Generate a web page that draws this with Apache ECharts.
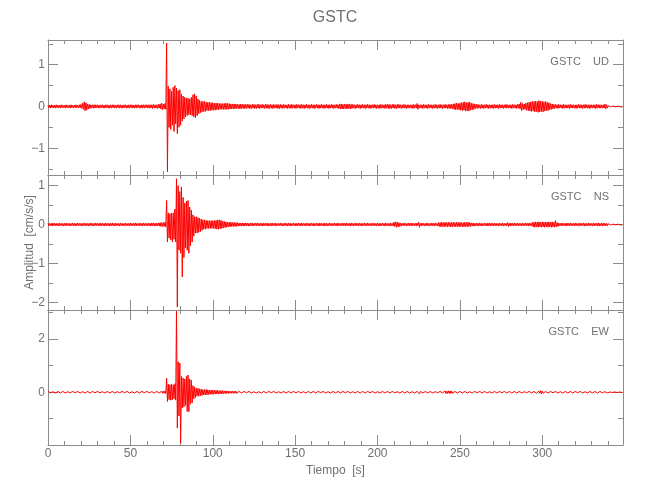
<!DOCTYPE html>
<html>
<head>
<meta charset="utf-8">
<script src="https://cdn.jsdelivr.net/npm/echarts@6/dist/echarts.min.js"></script>
<style>html,body{margin:0;padding:0;background:#fff}#c{width:650px;height:500px}</style>
</head>
<body>
<div id="c"></div>
<script>
// Time axis: one bin per second starting at 0 s; values in hundredths of cm/s/s (peak high / peak low in each bin)
const UD_HI = [
3,3,4,3,3,4,3,3,4,3, 3,4,3,3,4,3,3,4,3,4, 5,8,11,9,6,5,4,4,4,4, 4,3,4,4,3,4,4,3,4,4,
4,3,4,4,4,3,4,4,3,4, 4,4,3,4,4,4,3,4,4,4, 4,4,4,4,5,4,4,5,6,8, 6,7,152,48,42,36,46,50,44,38,
40,30,25,22,20,20,18,22,28,30, 25,18,15,12,12,13,10,10,10,9, 9,8,8,8,7,7,7,7,8,7, 7,6,6,6,6,5,5,6,5,5,
5,5,5,4,5,5,4,5,5,4, 5,4,5,5,4,5,4,5,4,5, 4,5,4,5,4,4,5,4,5,4, 4,5,4,4,5,4,4,5,4,4,
5,4,4,5,4,4,5,4,4,5, 4,4,5,4,4,5,4,6,6,5, 6,5,6,6,5,5,4,4,5,4, 4,5,4,4,5,4,4,4,5,4,
4,4,5,4,4,5,5,5,4,5, 5,4,5,5,4,4,5,4,4,4, 4,4,5,4,7,4,4,4,5,4, 4,5,4,4,4,5,4,4,5,4,
4,5,4,5,5,5,6,7,8,7, 8,9,10,11,9,10,10,8,7,6, 5,5,4,5,4,4,5,4,4,4, 4,5,4,4,5,4,4,4,5,4,
4,4,5,4,4,5,6,10,7,6, 8,9,10,11,12,12,13,12,14,13, 12,11,12,10,9,7,6,5,5,4, 5,4,4,5,4,4,4,5,4,4,
4,4,5,4,4,4,5,4,4,4, 4,4,4,5,4,4,4,4,6,4, 2,1,1,1,1,1,1,1,1];
const UD_LO = [
-3,-4,-3,-3,-4,-3,-3,-4,-3,-3, -4,-3,-3,-4,-3,-4,-3,-3,-4,-3, -5,-7,-10,-9,-6,-5,-4,-4,-4,-3, -4,-4,-3,-4,-4,-3,-4,-4,-4,-3,
-4,-4,-3,-4,-4,-4,-3,-4,-4,-4, -3,-4,-4,-4,-3,-4,-4,-4,-4,-3, -4,-4,-4,-5,-4,-4,-5,-4,-6,-8, -6,-7,-156,-50,-55,-45,-60,-42,-65,-50,
-45,-35,-30,-25,-22,-20,-20,-22,-25,-27, -22,-18,-15,-13,-12,-12,-10,-10,-10,-9, -9,-9,-8,-8,-7,-7,-7,-7,-7,-7, -6,-6,-6,-6,-5,-5,-6,-5,-5,-5,
-5,-4,-5,-5,-4,-5,-5,-4,-5,-4, -4,-5,-4,-5,-5,-4,-5,-4,-4,-5, -5,-4,-5,-4,-4,-5,-4,-5,-4,-4, -5,-4,-4,-5,-4,-5,-4,-4,-5,-4,
-4,-5,-4,-4,-5,-4,-4,-5,-4,-4, -5,-4,-4,-5,-4,-4,-5,-6,-6,-6, -5,-6,-5,-6,-5,-4,-5,-4,-4,-5, -4,-4,-5,-4,-4,-5,-4,-4,-4,-5,
-4,-5,-4,-4,-5,-4,-5,-5,-5,-4, -5,-5,-4,-4,-5,-4,-4,-5,-4,-4, -4,-5,-4,-4,-7,-4,-4,-5,-4,-4, -5,-4,-4,-5,-4,-4,-5,-4,-4,-5,
-4,-4,-5,-5,-5,-6,-7,-8,-7,-8, -9,-10,-9,-11,-10,-11,-9,-8,-7,-5, -5,-4,-5,-4,-5,-4,-4,-5,-4,-4, -5,-4,-4,-5,-4,-4,-5,-4,-4,-4,
-4,-5,-4,-4,-5,-4,-6,-10,-7,-7, -9,-10,-11,-12,-11,-13,-12,-14,-13,-12, -13,-11,-10,-10,-8,-7,-6,-5,-4,-5, -4,-4,-5,-4,-4,-4,-5,-4,-4,-4,
-5,-4,-4,-4,-5,-4,-4,-4,-5,-4, -4,-4,-5,-4,-4,-4,-4,-4,-6,-4, -2,-1,-1,-1,-1,-1,-1,-1,-1];
const NS_HI = [
3,3,3,4,3,3,3,4,3,3, 3,4,3,3,3,4,3,3,4,3, 3,3,4,3,3,3,4,3,3,4, 3,3,4,3,3,4,3,3,3,4,
3,4,3,3,4,3,3,4,3,3, 4,3,3,4,3,3,4,3,4,3, 3,4,3,4,4,3,4,4,5,5, 5,6,62,30,28,29,30,40,118,100,
85,97,70,55,60,62,45,37,25,20, 20,18,16,14,12,12,11,10,10,10, 10,10,11,12,12,11,9,8,7,6, 6,6,5,5,5,5,4,4,4,4,
4,4,3,4,4,3,4,4,3,4, 3,4,3,4,3,3,4,3,4,3, 3,4,3,3,4,3,4,3,3,4, 3,3,4,3,4,3,3,4,3,3,
4,3,3,4,3,4,3,3,4,3, 3,4,3,3,4,3,4,3,3,4, 3,4,3,3,4,3,3,4,3,4, 3,3,4,3,4,3,3,4,3,3,
4,3,3,4,3,4,3,3,4,3, 6,7,6,5,4,3,4,3,3,4, 3,4,3,3,4,6,3,4,3,3, 4,3,3,4,3,4,3,5,5,6,
5,6,5,6,5,5,6,5,6,5, 6,5,5,6,5,6,5,4,4,3, 4,3,4,3,3,4,3,4,3,4, 3,4,3,3,4,3,4,3,3,5,
3,4,3,4,3,4,3,3,4,3, 4,3,4,3,6,6,7,6,7,6, 7,6,7,6,7,6,7,6,10,5, 4,3,4,3,3,4,3,4,3,3,
4,3,3,4,3,4,3,3,4,3, 3,4,3,4,4,3,3,4,3,3, 2,1,1,1,1,1,1,1,1];
const NS_LO = [
-3,-3,-4,-3,-3,-3,-4,-3,-3,-4, -3,-3,-3,-4,-3,-3,-4,-3,-3,-3, -4,-3,-3,-3,-4,-3,-3,-4,-3,-3, -3,-4,-3,-3,-4,-3,-3,-4,-3,-3,
-4,-3,-3,-4,-3,-3,-4,-3,-3,-4, -3,-3,-4,-3,-3,-4,-3,-4,-3,-3, -4,-3,-4,-3,-4,-4,-3,-4,-5,-5, -5,-6,-45,-35,-40,-45,-38,-45,-212,-66,
-74,-135,-85,-60,-66,-74,-55,-45,-30,-22, -22,-20,-18,-15,-12,-12,-10,-10,-10,-10, -10,-11,-12,-12,-11,-10,-9,-8,-7,-6, -6,-5,-5,-5,-5,-4,-4,-4,-4,-4,
-3,-4,-4,-3,-4,-3,-4,-3,-4,-3, -4,-3,-3,-4,-3,-4,-3,-3,-4,-3, -3,-3,-4,-3,-3,-4,-3,-4,-3,-3, -4,-3,-3,-4,-3,-3,-4,-3,-4,-3,
-3,-4,-3,-3,-4,-3,-3,-4,-3,-4, -3,-3,-4,-3,-3,-4,-3,-4,-3,-3, -4,-3,-3,-4,-3,-4,-3,-3,-4,-3, -4,-3,-3,-4,-3,-3,-4,-3,-3,-4,
-3,-4,-3,-3,-4,-3,-3,-4,-3,-4, -5,-7,-6,-5,-4,-3,-3,-4,-3,-3, -4,-3,-3,-4,-3,-7,-3,-3,-4,-3, -3,-4,-3,-3,-4,-3,-4,-5,-6,-5,
-6,-5,-6,-5,-6,-6,-5,-6,-5,-6, -5,-6,-6,-5,-6,-5,-5,-4,-4,-4, -3,-4,-3,-4,-3,-3,-4,-3,-4,-3, -4,-3,-3,-4,-3,-3,-4,-3,-3,-5,
-4,-3,-4,-3,-3,-4,-3,-4,-3,-3, -3,-4,-3,-4,-6,-7,-6,-7,-6,-7, -6,-7,-6,-7,-6,-7,-6,-7,-6,-5, -3,-4,-3,-3,-4,-3,-4,-3,-3,-4,
-3,-3,-4,-3,-3,-4,-3,-4,-3,-3, -4,-3,-3,-4,-4,-3,-4,-3,-3,-4, -2,-1,-1,-1,-1,-1,-1,-1,-1];
const EW_HI = [
3,3,3,2,3,3,3,3,2,3, 3,3,2,3,3,3,3,2,3,3, 3,2,3,3,3,3,2,3,3,3, 3,3,3,2,3,3,3,3,2,3,
3,3,2,3,3,3,3,2,3,3, 3,2,3,3,3,3,2,3,3,3, 3,3,3,2,3,3,3,3,4,4, 4,5,53,30,28,30,28,32,305,115,
110,60,54,50,60,65,50,45,25,20, 15,15,13,12,10,10,10,9,8,8, 8,7,7,7,6,6,6,5,5,5, 4,4,4,4,4,3,3,3,3,3,
3,2,3,3,3,2,3,3,2,3, 3,3,2,3,3,3,2,3,3,3, 2,3,3,3,2,3,3,2,3,3, 3,2,3,3,3,2,3,3,3,2,
3,3,2,3,3,3,2,3,3,3, 2,3,3,3,2,3,3,3,2,3, 3,2,3,3,3,2,3,3,3,2, 3,3,3,2,3,3,2,3,3,3,
2,3,3,3,2,3,3,3,2,3, 3,3,2,3,3,3,2,3,3,3, 3,2,3,3,3,6,3,2,3,3, 3,2,3,3,3,2,3,3,3,2,
4,5,4,5,5,4,3,3,2,3, 3,3,2,3,3,3,2,3,3,3, 2,3,3,3,2,3,3,3,2,3, 3,3,2,3,3,3,2,3,3,3,
3,2,3,3,3,2,3,3,3,2, 3,3,3,2,3,3,4,3,4,6, 4,3,3,2,3,3,3,2,3,3, 3,2,3,3,3,2,3,3,3,2,
3,3,2,3,3,3,2,3,3,3, 2,3,3,3,2,3,3,3,2,3, 2,1,1,1,1,1,1,1,1];
const EW_LO = [
-3,-2,-3,-3,-3,-2,-3,-3,-3,-2, -3,-3,-3,-2,-3,-3,-2,-3,-3,-3, -2,-3,-3,-3,-2,-3,-3,-3,-2,-3, -3,-2,-3,-3,-3,-2,-3,-3,-3,-2,
-3,-3,-3,-2,-3,-3,-2,-3,-3,-3, -2,-3,-3,-3,-2,-3,-3,-3,-2,-3, -3,-2,-3,-3,-3,-2,-3,-3,-4,-4, -4,-5,-35,-28,-30,-29,-25,-30,-135,-90,
-192,-60,-55,-50,-73,-73,-45,-40,-25,-20, -15,-15,-13,-12,-10,-10,-10,-9,-8,-8, -8,-7,-7,-7,-6,-6,-6,-5,-5,-5, -4,-4,-4,-4,-4,-3,-3,-3,-3,-3,
-2,-3,-3,-3,-2,-3,-3,-2,-3,-3, -3,-2,-3,-3,-3,-2,-3,-3,-3,-2, -3,-3,-2,-3,-3,-3,-2,-3,-3,-3, -2,-3,-3,-3,-2,-3,-3,-2,-3,-3,
-3,-2,-3,-3,-3,-2,-3,-3,-3,-2, -3,-3,-2,-3,-3,-3,-2,-3,-3,-3, -2,-3,-3,-3,-2,-3,-3,-2,-3,-3, -3,-2,-3,-3,-3,-2,-3,-3,-3,-2,
-3,-3,-2,-3,-3,-3,-2,-3,-3,-3, -2,-3,-3,-3,-2,-3,-3,-2,-3,-3, -3,-2,-3,-3,-3,-6,-3,-3,-2,-3, -3,-3,-2,-3,-3,-3,-2,-3,-3,-3,
-4,-5,-5,-4,-5,-4,-3,-3,-3,-2, -3,-3,-3,-2,-3,-3,-2,-3,-3,-3, -2,-3,-3,-3,-2,-3,-3,-3,-2,-3, -3,-2,-3,-3,-3,-2,-3,-3,-3,-2,
-3,-3,-2,-3,-3,-3,-2,-3,-3,-3, -2,-3,-3,-3,-2,-3,-4,-3,-4,-6, -4,-3,-2,-3,-3,-3,-2,-3,-3,-3, -2,-3,-3,-3,-2,-3,-3,-2,-3,-3,
-3,-2,-3,-3,-3,-2,-3,-3,-3,-2, -3,-3,-2,-3,-3,-3,-2,-3,-3,-3, -2,-1,-1,-1,-1,-1,-1,-1,-1];

const STATION = 'GSTC';
const COMPONENTS = ['UD', 'NS', 'EW'];
const X_MAJOR = [0, 50, 100, 150, 200, 250, 300];
const X_MINOR = [10,20,30,40, 60,70,80,90, 110,120,130,140, 160,170,180,190, 210,220,230,240, 260,270,280,290, 310,320,330,340];
const Y_MAJOR = [[-1, 0, 1], [-2, -1, 0, 1], [0, 2]];
const Y_MINOR = [[-1.5, -0.5, 0.5, 1.5], [-1.5, -0.5, 0.5], [-1, 1, 3]];
const Y_RANGE = [[-1.64, 1.59], [-2.2, 1.275], [-1.99, 3.1]];
const X_RANGE = [0, 349];

function trace(hi, lo) {
  const d = [];
  for (let i = 0; i < hi.length; i++) {
    d.push([i, hi[i] / 100]);
    d.push([i + 0.5, lo[i] / 100]);
  }
  return d;
}
const TRACES = [trace(UD_HI, UD_LO), trace(NS_HI, NS_LO), trace(EW_HI, EW_LO)];

const AX = '#8c8c8c', TX = '#707070';
const FONT = "'Liberation Sans', Arial, sans-serif";
const tops = [40, 175, 310];
const fmt = v => (v < 0 ? '\u2212' + (-v) : String(v));

const grid = [], xAxis = [], yAxis = [], series = [];
for (let g = 0; g < 3; g++) {
  grid.push({ left: 48, right: 27, top: tops[g], height: 135, containLabel: false });
  const xBase = xAxis.length, yBase = yAxis.length;
  for (const pos of ['bottom', 'top']) {
    const showLab = (g === 2 && pos === 'bottom');
    xAxis.push({
      gridIndex: g, type: 'value', position: pos, min: X_RANGE[0], max: X_RANGE[1],
      axisLine: { show: true, onZero: false, lineStyle: { color: AX, width: 1 } },
      axisTick: { show: true, inside: true, length: 10, customValues: X_MAJOR, lineStyle: { color: AX } },
      splitLine: { show: false },
      axisLabel: { show: showLab, color: TX, fontSize: 12, fontFamily: FONT, margin: 3, customValues: X_MAJOR },
      name: showLab ? 'Tiempo  [s]' : '', nameLocation: 'middle', nameGap: 20, nameMoveOverlap: false,
      nameTextStyle: { color: TX, fontSize: 12, fontFamily: FONT }
    });
    xAxis.push({
      gridIndex: g, type: 'value', position: pos, min: X_RANGE[0], max: X_RANGE[1],
      axisLine: { show: false, onZero: false },
      axisTick: { show: true, inside: true, length: 4, customValues: X_MINOR, lineStyle: { color: AX } },
      splitLine: { show: false },
      axisLabel: { show: false, customValues: X_MINOR }
    });
  }
  for (const pos of ['left', 'right']) {
    const isMain = pos === 'left';
    yAxis.push({
      gridIndex: g, type: 'value', position: pos, min: Y_RANGE[g][0], max: Y_RANGE[g][1],
      axisLine: { show: true, onZero: false, lineStyle: { color: AX, width: 1 } },
      axisTick: { show: true, inside: true, length: 10, customValues: Y_MAJOR[g], lineStyle: { color: AX } },
      axisLabel: { show: isMain, customValues: Y_MAJOR[g], color: TX, fontSize: 12, fontFamily: FONT, margin: 3, formatter: fmt },
      splitLine: { show: false },
      name: (isMain && g === 1) ? 'Amplitud  [cm/s/s]' : '', nameLocation: 'middle', nameGap: 12, nameMoveOverlap: false,
      nameTextStyle: { color: TX, fontSize: 12, fontFamily: FONT }
    });
    yAxis.push({
      gridIndex: g, type: 'value', position: pos, min: Y_RANGE[g][0], max: Y_RANGE[g][1],
      axisLine: { show: false, onZero: false },
      axisTick: { show: true, inside: true, length: 5, customValues: Y_MINOR[g], lineStyle: { color: AX } },
      axisLabel: { show: false, customValues: Y_MINOR[g] },
      splitLine: { show: false }
    });
  }
  series.push({
    type: 'line', xAxisIndex: xBase, yAxisIndex: yBase, data: TRACES[g],
    showSymbol: false, symbol: 'none', sampling: null, clip: true,
    lineStyle: { color: '#ff0000', width: 1 }, silent: true, z: 1
  });
}

const graphic = [{
  type: 'text', x: 335, y: 18,
  style: { text: STATION, fill: TX, fontSize: 16, fontFamily: FONT, align: 'center', verticalAlign: 'middle' }
}];
for (let g = 0; g < 3; g++) {
  graphic.push({
    type: 'text', x: 609, y: tops[g] + 22,
    style: { text: STATION + '    ' + COMPONENTS[g], fill: TX, fontSize: 11, fontFamily: FONT, align: 'right', verticalAlign: 'middle' }
  });
}

const chart = echarts.init(document.getElementById('c'), null, { renderer: 'canvas' });
chart.setOption({ animation: false, backgroundColor: '#fff', grid, xAxis, yAxis, series, graphic });
</script>
</body>
</html>
